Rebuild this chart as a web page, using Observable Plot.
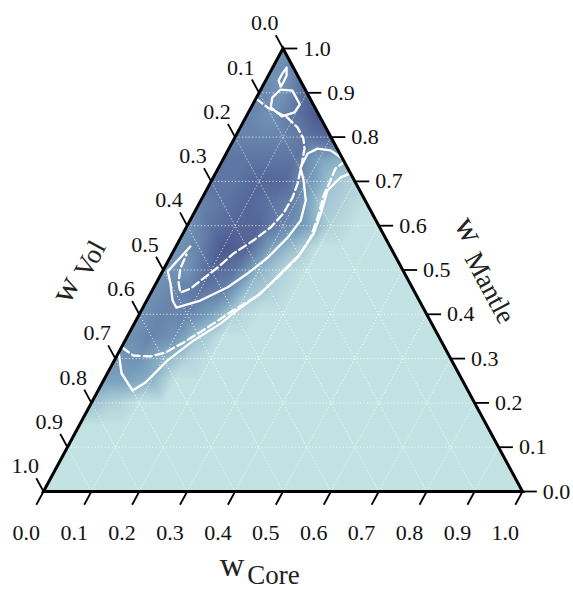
<!DOCTYPE html>
<html><head><meta charset="utf-8">
<script src="https://cdn.jsdelivr.net/npm/d3@7"></script>
<script src="https://cdn.jsdelivr.net/npm/@observablehq/plot@0.6"></script>
<style>body{margin:0;background:#fff}</style>
</head><body><div id="chart"></div>
<script>
// ---- data ----
// density level (0-9) on a ternary lattice, rows from w_Mantle = 1.0 down to 0.0 (step 0.05),
// each character = one lattice node, w_Core = 0, 0.05, 0.10, ...
const heatStep = 0.05;
const heatRows = [
  "5",
  "56",
  "658",
  "6579",
  "66678",
  "777743",
  "7788521",
  "67876210",
  "578864100",
  "5698420000",
  "55873100000",
  "567621000000",
  "5664100000000",
  "56520000000000",
  "553100000000000",
  "4430000000000000",
  "21000000000000000",
  "000000000000000000",
  "0000000000000000000",
  "00000000000000000000",
  "000000000000000000000"
];
const tickValues = [0, 0.1, 0.2, 0.3, 0.4, 0.5, 0.6, 0.7, 0.8, 0.9, 1.0];
const tickLabels = ["0.0", "0.1", "0.2", "0.3", "0.4", "0.5", "0.6", "0.7", "0.8", "0.9", "1.0"];
const gridValues = [0.1, 0.2, 0.3, 0.4, 0.5, 0.6, 0.7, 0.8, 0.9];
// contours as [w_Core, w_Mantle]
const solidContours = [
  [[0.038,0.914],[0.027,0.928],[0.027,0.944],[0.029,0.957],[0.038,0.939],[0.039,0.923],[0.038,0.914]],
  [[0.041,0.867],[0.033,0.889],[0.041,0.907],[0.067,0.905],[0.098,0.874],[0.096,0.856],[0.074,0.847],[0.041,0.867]],
  [[0.030,0.553],[0.011,0.497],[0.030,0.470],[0.054,0.431],[0.070,0.415],[0.112,0.431],[0.154,0.461],[0.180,0.492],
   [0.204,0.528],[0.223,0.573],[0.231,0.612],[0.219,0.657],[0.192,0.702],[0.171,0.731],[0.170,0.763],[0.185,0.774],
   [0.214,0.770],[0.235,0.759],[0.250,0.750]],
  [[0.000,0.314],[0.030,0.266],[0.072,0.228],[0.090,0.246],[0.111,0.296],[0.143,0.341],[0.180,0.379],[0.204,0.415],
   [0.230,0.447],[0.249,0.492],[0.268,0.537],[0.273,0.582],[0.265,0.628],[0.253,0.680],[0.266,0.709],[0.282,0.718]]
];
const dashedContours = [
  [[0.000,0.887],[0.034,0.867],[0.087,0.844],[0.119,0.822],[0.144,0.797],[0.158,0.774],[0.167,0.747],[0.174,0.725],
   [0.183,0.695],[0.188,0.664],[0.187,0.628],[0.176,0.596],[0.155,0.567],[0.128,0.537],[0.111,0.506],[0.090,0.476],
   [0.078,0.458],[0.061,0.449],[0.046,0.472],[0.034,0.503],[0.031,0.535]],
  [[0.002,0.325],[0.034,0.307],[0.071,0.305],[0.098,0.314],[0.124,0.336],[0.157,0.370],[0.192,0.409],[0.226,0.442],
   [0.247,0.483],[0.266,0.528],[0.271,0.573],[0.263,0.619],[0.251,0.668],[0.248,0.702],[0.245,0.729],[0.255,0.743]]
];

// ---- derived tables ----
const proj = (c, m) => ({x: c + m / 2, y: m});
const heat = heatRows.flatMap((row, r) => {
  const m = (heatRows.length - 1 - r) * heatStep;
  return Array.from(row, (ch, i) => ({...proj(i * heatStep, m), v: +ch}));
});
const toLines = (list) => list.flatMap((pts, id) => pts.map(([c, m]) => ({...proj(c, m), id})));
const solid = toLines(solidContours);
const dashed = toLines(dashedContours);

const T = 0.03; // tick length in ternary units
const bottomTicks = tickValues.map((t, i) => ({x1: t, y1: 0, x2: t - T / 2, y2: -T, label: tickLabels[i]}));
const rightTicks = tickValues.map((t, i) => ({x1: 1 - t / 2, y1: t, x2: 1 - t / 2 + T, y2: t, label: tickLabels[i]}));
const leftTicks = tickValues.map((t, i) => ({x1: (1 - t) / 2, y1: 1 - t, x2: (1 - t) / 2 - T / 2, y2: 1 - t + T, label: tickLabels[i]}));

const grid = gridValues.flatMap(t => [
  {x1: t / 2, y1: t, x2: 1 - t / 2, y2: t},
  {x1: t, y1: 0, x2: t + (1 - t) / 2, y2: 1 - t},
  {x1: 1 - t, y1: 0, x2: (1 - t) / 2, y2: 1 - t}
]);
const tri = [proj(0, 0), proj(1, 0), proj(0, 1), proj(0, 0), proj(1, 0)];
const maskL = [{x: 0, y: 0}, {x: 0.5, y: 1}, {x: 0.5, y: 1.2}, {x: -0.2, y: 1.2}, {x: -0.2, y: 0}];
const maskR = [{x: 1, y: 0}, {x: 0.5, y: 1}, {x: 0.5, y: 1.2}, {x: 1.2, y: 1.2}, {x: 1.2, y: 0}];
const maskB = [{x: -0.2, y: 0}, {x: 1.2, y: 0}, {x: 1.2, y: -0.1}, {x: -0.2, y: -0.1}];

const ML = 43, MT = 48;
const ang = 61.7;
const serif = "'Liberation Serif', 'DejaVu Serif', serif";
const title = (txt, px, py, size, rot) => Plot.text([txt], {
  text: d => d, frameAnchor: "top-left", dx: px - ML, dy: py - MT,
  textAnchor: "start", lineAnchor: "middle", fontSize: size, rotate: rot, fill: "#222"
});

const plot = Plot.plot({
  width: 573, height: 590,
  marginLeft: ML, marginRight: 51, marginTop: MT, marginBottom: 99,
  x: {domain: [0, 1], axis: null},
  y: {domain: [0, 1], axis: null},
  color: {type: "linear", domain: [0, 4, 9], range: ["#c2e2e3", "#7ba2bf", "#4b5890"]},
  style: {fontFamily: serif, background: "white"},
  marks: [
    Plot.raster(heat, {x: "x", y: "y", fill: "v", interpolate: "barycentric", pixelSize: 1}),
    Plot.line(maskL, {x: "x", y: "y", fill: "white", stroke: "white"}),
    Plot.line(maskR, {x: "x", y: "y", fill: "white", stroke: "white"}),
    Plot.line(maskB, {x: "x", y: "y", fill: "white", stroke: "white"}),
    Plot.link(grid, {x1: "x1", y1: "y1", x2: "x2", y2: "y2", stroke: "white", strokeWidth: 0.9, strokeDasharray: "1.2,2.2", strokeOpacity: 0.85}),
    Plot.line(solid, {x: "x", y: "y", z: "id", stroke: "white", strokeWidth: 2.3}),
    Plot.line(dashed, {x: "x", y: "y", z: "id", stroke: "white", strokeWidth: 2.3, strokeDasharray: "8,4"}),
    Plot.line(tri, {x: "x", y: "y", stroke: "black", strokeWidth: 3, strokeLinejoin: "miter", strokeMiterlimit: 20}),
    Plot.link(bottomTicks, {x1: "x1", y1: "y1", x2: "x2", y2: "y2", stroke: "black", strokeWidth: 1.8}),
    Plot.link(rightTicks, {x1: "x1", y1: "y1", x2: "x2", y2: "y2", stroke: "black", strokeWidth: 1.8}),
    Plot.link(leftTicks, {x1: "x1", y1: "y1", x2: "x2", y2: "y2", stroke: "black", strokeWidth: 1.8}),
    Plot.text(bottomTicks, {x: "x2", y: "y2", text: "label", dx: -10, dy: 28, fontSize: 22, fill: "#111"}),
    Plot.text(rightTicks, {x: "x2", y: "y2", text: "label", dx: 6, textAnchor: "start", fontSize: 22, fill: "#111"}),
    Plot.text(leftTicks, {x: "x2", y: "y2", text: "label", dx: -11, dy: -12, fontSize: 22, fill: "#111"}),
    title("w", 219.2, 565, 34, 0),
    title("Core", 246.8, 575, 27, 0),
    title("w", 59, 299.5, 34, -ang),
    title("Vol", 81, 275, 27, -ang),
    title("w", 462.8, 218.3, 34, ang),
    title("Mantle", 471, 253.6, 27, ang)
  ]
});
document.getElementById("chart").appendChild(plot);
</script>
</body></html>
